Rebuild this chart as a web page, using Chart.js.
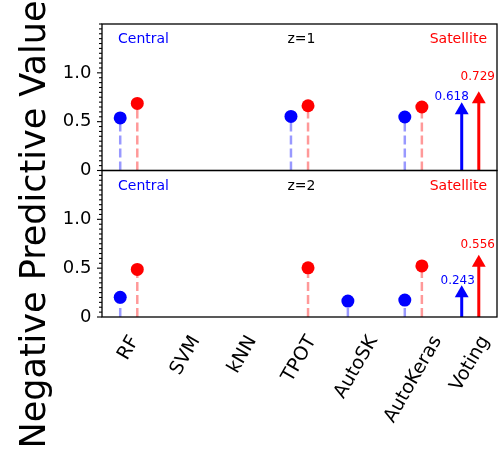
<!DOCTYPE html>
<html>
<head>
<meta charset="utf-8">
<script src="https://cdn.jsdelivr.net/npm/chart.js@4.4.1/dist/chart.umd.min.js"></script>
<style>
  html, body { margin: 0; padding: 0; background: #fff; }
  #wrap { position: relative; width: 501px; height: 449px; }
</style>
</head>
<body>
<div id="wrap"><canvas id="npv" width="501" height="449"></canvas></div>
<script>
const FONT = "'DejaVu Sans', sans-serif"

const methods = ['RF', 'SVM', 'kNN', 'TPOT', 'AutoSK', 'AutoKeras', 'Voting']
const yTickValues = [0, 0.5, 1.0]

// negative predictive value per method, null = no result
const centralZ1   = [0.538, null, null, 0.554, null, 0.548, 0.618]
const satelliteZ1 = [0.687, null, null, 0.663, null, 0.650, 0.729]
const centralZ2   = [0.201, null, null, null, 0.163, 0.173, 0.243]
const satelliteZ2 = [0.487, null, null, 0.503, null, 0.523, 0.556]

const BLUE = '#0000ff', RED = '#ff0000'
const BLUE_FADED = 'rgba(0,0,255,0.4)', RED_FADED = 'rgba(255,0,0,0.4)'
const SHIFT = 0.15
const VOTE = methods.indexOf('Voting')

// lollipop stems: 0 -> value, broken by a null point
function stems(vals, dx) {
	let pts = []
	vals.forEach((v, i) => {
		if (v === null || i === VOTE) return
		pts.push({x: i + dx, y: 0}, {x: i + dx, y: v}, {x: i + dx, y: null})
	})
	return pts
}

function heads(vals, dx) {
	return vals.map((v, i) => ({x: i + dx, y: v}))
		.filter((p, i) => p.y !== null && i !== VOTE)
}

function panelSets(central, satellite, yID) {
	let out = []
	const sides = [[central, -SHIFT, BLUE, BLUE_FADED], [satellite, SHIFT, RED, RED_FADED]]
	sides.forEach(([vals, dx, col, faded]) => {
		out.push({
			data: stems(vals, dx), yAxisID: yID, showLine: true, spanGaps: false,
			borderColor: faded, borderWidth: 2.5, borderDash: [9, 4], pointRadius: 0, order: 3
		})
		out.push({
			data: heads(vals, dx), yAxisID: yID,
			backgroundColor: col, borderWidth: 0, pointRadius: 6.5, order: 1
		})
		// voting gets an arrow instead of a lollipop
		const v = vals[VOTE]
		out.push({
			data: [{x: VOTE + dx, y: 0}, {x: VOTE + dx, y: v}], yAxisID: yID, showLine: true,
			borderColor: col, borderWidth: 3, pointRadius: 0, order: 2
		})
		out.push({
			data: [{x: VOTE + dx, y: v}], yAxisID: yID, pointStyle: 'triangle',
			pointRadius: 8, backgroundColor: col, borderWidth: 0, order: 2
		})
	})
	return out
}

// per panel: tag text and where the voting value labels sit
const panels = [
	{axis: 'yTop', tag: 'z=1', central: centralZ1, satellite: satelliteZ1, liftBlue: 0.1, liftRed: 0.2, dxBlue: -10},
	{axis: 'yBot', tag: 'z=2', central: centralZ2, satellite: satelliteZ2, liftBlue: 0.1, liftRed: 0.15, dxBlue: -4}
]

function yAxis() {
	return {
		type: 'linear', position: 'left', stack: 'npv', stackWeight: 1,
		min: 0, max: 1.5,
		afterBuildTicks: s => { s.ticks = yTickValues.map(v => ({value: v})) },
		afterFit: s => { s.width = 102; s.paddingTop = 0; s.paddingBottom = 0 },
		ticks: {color: '#000', font: {family: FONT, size: 18}, padding: 10.5},
		grid: {display: false, drawTicks: false},
		border: {display: false}
	}
}

const decorations = {
	id: 'decorations',
	afterDatasetsDraw(chart) {
		const ctx = chart.ctx, area = chart.chartArea, xs = chart.scales.x
		ctx.save()

		panels.forEach(p => {
			const ys = chart.scales[p.axis]
			// frame
			ctx.strokeStyle = '#000'
			ctx.lineWidth = 1.3
			ctx.strokeRect(area.left, ys.top, area.right - area.left, ys.bottom - ys.top)

			// major and minor y ticks
			ctx.lineWidth = 1.1
			for (let k = 0; k <= 30; k++) {
				const v = k * 0.05
				const y = ys.getPixelForValue(v)
				const major = yTickValues.some(t => Math.abs(t - v) < 1e-6)
				ctx.beginPath()
				ctx.moveTo(area.left - (major ? 5 : 3), y)
				ctx.lineTo(area.left, y)
				ctx.stroke()
			}

			// corner captions
			ctx.font = '14px ' + FONT
			ctx.textBaseline = 'alphabetic'
			ctx.fillStyle = BLUE
			ctx.textAlign = 'left'
			ctx.fillText('Central', area.left + 16, ys.top + 19)
			ctx.fillStyle = RED
			ctx.textAlign = 'right'
			ctx.fillText('Satellite', area.right - 10, ys.top + 19)
			ctx.fillStyle = '#000'
			ctx.textAlign = 'center'
			ctx.fillText(p.tag, (area.left + area.right) / 2 + 2, ys.top + 19)

			// voting values
			ctx.font = '12px ' + FONT
			const vb = p.central[VOTE], vr = p.satellite[VOTE]
			ctx.fillStyle = BLUE
			ctx.fillText(vb.toFixed(3), xs.getPixelForValue(VOTE - SHIFT) + p.dxBlue, ys.getPixelForValue(vb + p.liftBlue))
			ctx.fillStyle = RED
			ctx.fillText(vr.toFixed(3), xs.getPixelForValue(VOTE + SHIFT) - 1, ys.getPixelForValue(vr + p.liftRed))
		})

		// rotated method names under the lower panel
		ctx.font = '19px ' + FONT
		ctx.fillStyle = '#000'
		ctx.textAlign = 'center'
		ctx.textBaseline = 'middle'
		const ang = Math.PI / 3
		methods.forEach((m, i) => {
			const w = ctx.measureText(m).width
			const boxH = w * Math.sin(ang) + 19 * 1.17 * Math.cos(ang)
			ctx.save()
			ctx.translate(xs.getPixelForValue(i), area.bottom + 15 + boxH / 2)
			ctx.rotate(-ang)
			ctx.fillText(m, 0, 0)
			ctx.restore()
		})

		// shared y title
		ctx.font = '35px ' + FONT
		ctx.textBaseline = 'alphabetic'
		ctx.translate(45, chart.height / 2)
		ctx.rotate(-Math.PI / 2)
		ctx.fillText('Negative Predictive Value', 0, 0)
		ctx.restore()
	}
}

new Chart(document.getElementById('npv'), {
	type: 'scatter',
	data: {
		datasets: [...panelSets(centralZ1, satelliteZ1, 'yTop'), ...panelSets(centralZ2, satelliteZ2, 'yBot')]
	},
	options: {
		responsive: false,
		animation: false,
		layout: {autoPadding: false, padding: {top: 24, right: 4, bottom: 132, left: 0}},
		plugins: {legend: {display: false}, tooltip: {enabled: false}},
		scales: {
			x: {type: 'linear', min: -0.47, max: 6.47, display: false},
			// stacked left axes: the later one is placed on top
			yBot: yAxis(),
			yTop: yAxis()
		}
	},
	plugins: [decorations]
})
</script>
</body>
</html>
